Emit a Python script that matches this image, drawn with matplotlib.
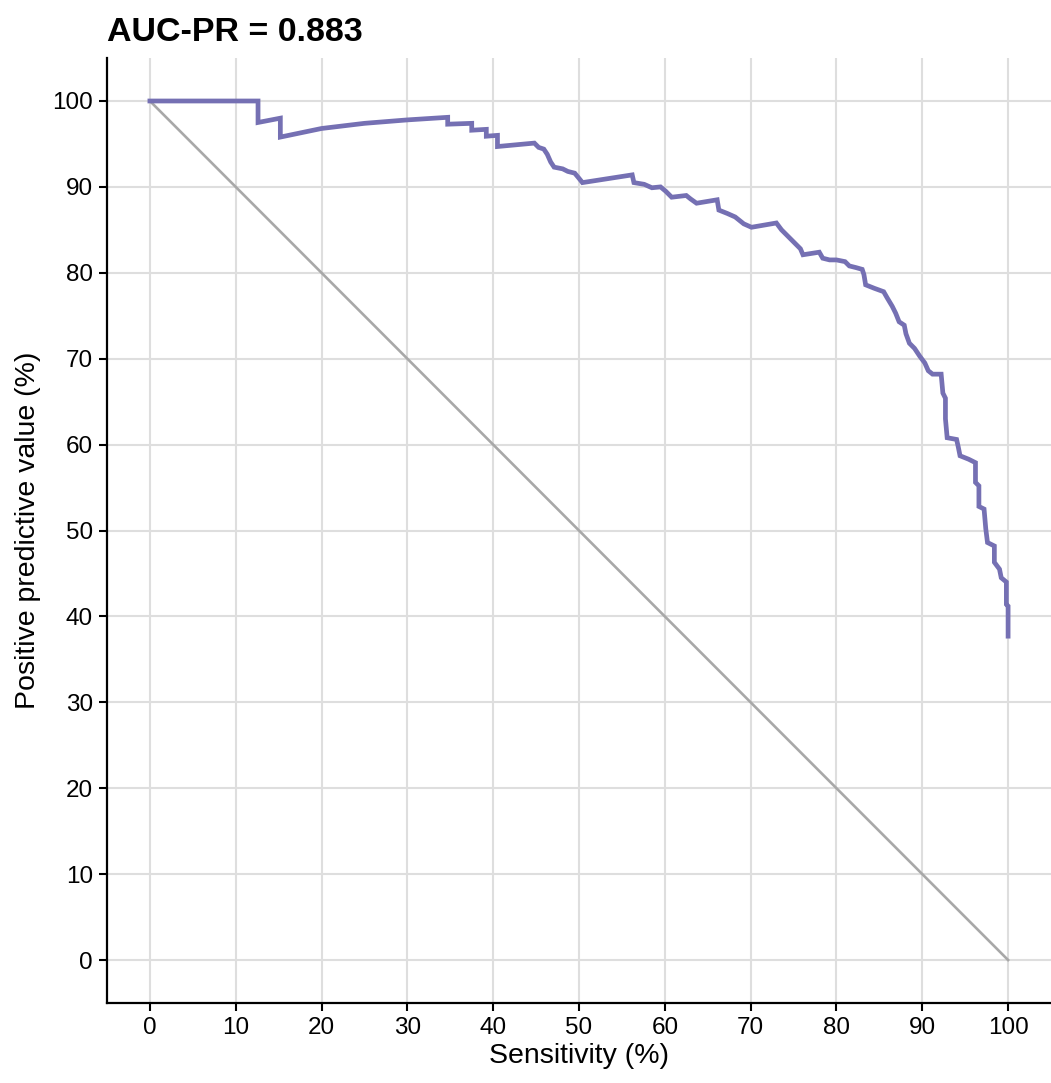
import matplotlib
matplotlib.use("Agg")
from matplotlib import pyplot as plt

plt.rcParams['font.family'] = ['Liberation Sans', 'DejaVu Sans']

TITLE = "AUC-PR = 0.883"
CURVE_COLOR = "#7570b3"

# PR curve vertices (sensitivity %, PPV %)
sensitivity = [0, 12.6, 12.6, 15.2, 15.2, 20, 25, 30, 34.7, 34.7, 37.5, 37.5,
               39.2, 39.2, 40.5, 40.5, 44.8, 45.3, 45.9, 46.3, 46.7, 47.1, 48.1,
               48.7, 49.5, 50.0, 50.4, 56.2, 56.4, 57.6, 58.5, 59.5, 60.1, 60.8,
               62.5, 63.0, 63.7, 66.1, 66.3, 67.3, 68.2, 69.2, 70.1, 73.0, 73.6,
               74.2, 75.0, 75.8, 76.1, 78.0, 78.4, 79.2, 80.0, 81.0, 81.5, 82.3,
               83.0, 83.2, 83.4, 84.4, 85.5, 85.9, 86.5, 86.9, 87.3, 87.9, 88.1,
               88.5, 89.1, 89.7, 90.3, 90.7, 91.2, 92.2, 92.4, 92.7, 92.7, 92.9,
               94.0, 94.2, 94.4, 95.4, 96.2, 96.2, 96.6, 96.6, 97.2, 97.4, 97.6,
               98.4, 98.4, 99.0, 99.2, 99.8, 99.8, 100, 100]
ppv = [100, 100, 97.5, 98.0, 95.8, 96.8, 97.4, 97.8, 98.1, 97.3, 97.4, 96.6,
       96.7, 95.9, 96.0, 94.7, 95.1, 94.6, 94.4, 93.8, 92.9, 92.3, 92.1,
       91.8, 91.6, 91.0, 90.5, 91.4, 90.5, 90.3, 89.9, 90.0, 89.5, 88.8,
       89.0, 88.6, 88.1, 88.5, 87.3, 86.9, 86.5, 85.7, 85.3, 85.8, 85.0,
       84.4, 83.6, 82.8, 82.1, 82.4, 81.7, 81.5, 81.5, 81.3, 80.8, 80.6,
       80.4, 79.8, 78.6, 78.2, 77.8, 77.1, 76.1, 75.3, 74.3, 73.9, 72.9,
       71.8, 71.2, 70.3, 69.5, 68.6, 68.2, 68.2, 66.0, 65.4, 63.0, 60.8,
       60.6, 59.7, 58.7, 58.3, 57.9, 55.6, 55.2, 52.8, 52.5, 50.2, 48.6,
       48.2, 46.3, 45.5, 44.5, 44.0, 41.4, 41.2, 37.7]

diag_x = [0, 100]
diag_y = [100, 0]
ticks = list(range(0, 101, 10))

fig = plt.figure(figsize=(10.51, 10.83), dpi=100)
ax = fig.add_axes([0.1018, 0.0739, 0.8982, 0.8725])

ax.plot(diag_x, diag_y, color="#a8a8a8", lw=1.9, zorder=2)
ax.plot(sensitivity, ppv, color=CURVE_COLOR, lw=3.4, zorder=3,
        solid_joinstyle="miter")

ax.set_xlim(-5, 105)
ax.set_ylim(-5, 105)
ax.set_xticks(ticks)
ax.set_yticks(ticks)
ax.grid(True, color="#dedede", lw=1.5)
ax.set_axisbelow(True)
for s in ["top", "right"]:
    ax.spines[s].set_visible(False)
for s in ["left", "bottom"]:
    ax.spines[s].set_linewidth(1.6)
ax.tick_params(labelsize=17.5, length=5.5, width=1.5, pad=4.5, colors="black")

ax.set_xlabel("Sensitivity (%)", fontsize=20.5, labelpad=3)
ax.set_ylabel("Positive predictive value (%)", fontsize=20.5, labelpad=8)
ax.set_title(TITLE, fontsize=24.5, fontweight="bold", loc="left", pad=12)

fig.savefig("out.png", dpi=100)
